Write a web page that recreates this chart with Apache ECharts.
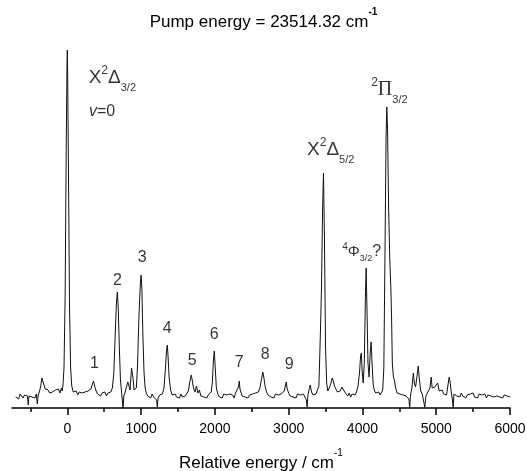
<!DOCTYPE html>
<html><head><meta charset="utf-8">
<script src="https://cdn.jsdelivr.net/npm/echarts@6/dist/echarts.min.js"></script>
<style>html,body{margin:0;padding:0;background:#fff}#c{width:527px;height:471px}</style>
</head><body><div id="c"></div>
<script>
// Spectrum (relative energy in cm^-1, intensity in arbitrary units)
var energy = [-700,-680,-660,-640,-620,-600,-580,-560,-540,-530,-520,-500,-480,-460,-440,-420,-407,-395,
-380,-360,-345,-335,-320,-300,-280,-260,-240,-220,-200,-180,-160,-140,-120,-100,-80,-70,-60,-45,-30,-15,-5,0,5,15,30,45,60,80,
100,120,140,160,180,200,220,240,260,280,300,320,340,355,370,390,410,430,450,470,490,510,530,550,570,590,610,630,650,665,678,690,705,720,735,748,755,765,780,800,820,835,850,870,880,890,905,920,935,950,970,990,1000,1010,1025,1040,1055,1070,1090,
1110,1130,1150,1170,1190,1210,1220,1230,1250,1270,1290,1310,1330,1345,1355,1365,1380,1400,1420,1440,1460,1480,1500,1520,1540,1560,1580,1600,1620,1640,1660,1680,1695,1710,1730,1750,1770,1790,1810,1830,1850,1870,1890,1910,1930,1950,1965,1980,1992,2005,2020,2040,2060,2080,
2100,2120,2140,2160,2180,2200,2220,2240,2260,2280,2300,2320,2330,2340,2355,2370,2390,2410,2430,2450,2470,2490,2510,2530,2550,2570,2590,2610,2630,2650,2665,2680,2700,2720,2740,2760,2780,2800,2820,2840,2860,2880,2900,2920,2940,2955,2967,2980,
3000,3020,3040,3060,3080,3100,3120,3140,3160,3180,3200,3220,3240,3250,3260,3275,3293,3310,3330,3350,3370,3390,3410,3430,3445,3460,3472,3485,3500,3515,3530,3550,3570,3590,3605,3620,3640,3660,3680,3700,3720,3740,3760,3780,3800,3820,3840,3860,3880,3900,3920,3940,3960,3975,3985,3995,
4010,4025,4040,4050,4060,4075,4090,4105,4118,4130,4145,4160,4180,4200,4220,4240,4260,4275,4290,4305,4320,4330,4340,4355,4370,4385,4395,4405,4420,4435,4450,4470,4490,4510,4530,4550,4570,4590,4610,4630,4640,4650,4670,4690,4705,4720,4740,4756,4770,4790,4810,4830,4845,4860,4880,4900,4915,4932,4945,4960,4980,
5000,5020,5040,5060,5080,5100,5120,5140,5155,5176,5190,5205,5220,5230,5240,5260,5280,5300,5320,5340,5360,5380,5400,5420,5440,5460,5480,5500,5520,5540,5560,5580,5600,5620,5640,5660,5680,5700,5720,5740,5760,5780,5800,5820,5840,5860,5880,5900,5920,5940,5960,5980,6000];
var intensity = [11,13,9,14,12,10,13,11,12,3,12,14,11,13,10,14,4,13,
16,22,30,32,24,19,17,18,15,17,16,14,18,16,19,15,20,17,22,40,110,260,340,358,330,240,100,40,22,16,
14,17,13,16,14,15,13,16,14,17,15,19,24,27,22,17,14,16,12,15,13,16,12,15,13,16,20,35,75,105,116,100,60,28,16,14,0,12,15,14,26,22,18,40,42,30,18,16,20,40,90,125,133,120,70,35,20,15,12,
13,10,14,11,12,8,1,10,13,11,14,20,40,58,63,52,30,18,13,12,14,11,13,10,14,11,13,12,14,17,26,33,27,20,16,22,15,18,12,14,11,13,10,13,12,16,25,48,57,40,20,14,11,13,
10,14,12,13,11,14,12,13,10,15,14,21,27,19,17,12,14,11,13,10,13,11,14,12,15,13,16,20,28,36,30,22,16,13,14,11,13,10,14,12,13,11,14,13,17,22,26,19,
15,12,14,11,13,10,14,12,13,11,14,12,8,1,12,18,23,16,13,12,14,13,22,75,120,200,235,170,60,25,17,20,24,30,27,22,20,16,18,17,21,23,16,14,12,15,11,14,12,13,16,22,35,52,55,38,
25,45,110,140,105,45,31,55,66,45,24,18,15,14,16,13,15,18,40,150,270,301,280,200,150,120,90,45,31,27,20,15,17,14,16,13,15,12,14,9,0,12,20,35,24,21,32,42,30,17,14,12,1,12,15,14,20,31,20,18,21,
20,25,17,15,18,14,16,13,21,31,25,15,8,0,14,16,12,14,11,15,12,14,10,13,11,14,12,15,11,13,10,14,12,13,11,14,10,13,15,12,14,11,13,12,14,11,13,10,13,11,12,10,11];

var majorTicks = [0,1000,2000,3000,4000,5000,6000];
var minorTicks = [-500,500,1500,2500,3500,4500,5500];

// Peak annotations: anchor (energy, intensity) and rich text
var annoX = [610, 470, 366, 680, 1016, 1355, 1694, 1992, 2331, 2683, 3008, 3570, 3990, 4365];
var annoY = [330, 296, 44, 127, 150, 79, 47, 73, 45, 53, 43, 258, 156, 318];
var annoText = [
  '{m|X}{sup|2}{m|Δ}{sub|3/2}',
  '{it|v}{n|=0}',
  '{n|1}','{n|2}','{n|3}','{n|4}','{n|5}','{n|6}','{n|7}','{n|8}','{n|9}',
  '{m|X}{sup|2}{m|Δ}{sub|5/2}',
  '{sup2|4}{phi|Φ}{sub2|3/2}{q|?}',
  '{sup|2}{pi|Π}{sub|3/2}'
];

var chart = echarts.init(document.getElementById('c'), null, {renderer: 'canvas'});
var F = 'Liberation Sans, Arial, sans-serif';
var line = [];
for (var i = 0; i < energy.length; i++) line.push([energy[i], intensity[i]]);
var anno = [];
for (var j = 0; j < annoX.length; j++) anno.push({value: [annoX[j], annoY[j]], label: {formatter: annoText[j]}});

var rich = {
  m: {fontSize: 19, fontFamily: F, color: '#000', lineHeight: 30, verticalAlign: 'middle'},
  sup: {fontSize: 12, fontFamily: F, color: '#000', lineHeight: 30, verticalAlign: 'top', padding: [2,0,0,0]},
  sub: {fontSize: 11, fontFamily: F, color: '#000', lineHeight: 30, verticalAlign: 'bottom'},
  sup2: {fontSize: 10, fontFamily: F, color: '#000', lineHeight: 26, verticalAlign: 'top', padding: [3,0,0,0]},
  sub2: {fontSize: 9, fontFamily: F, color: '#000', lineHeight: 26, verticalAlign: 'bottom', padding: [0,0,2,0]},
  phi: {fontSize: 15, fontFamily: F, color: '#000', lineHeight: 26, verticalAlign: 'middle'},
  q: {fontSize: 16, fontFamily: F, color: '#000', lineHeight: 26, verticalAlign: 'middle'},
  pi: {fontSize: 20, fontFamily: 'Liberation Serif, Times New Roman, serif', color: '#000', lineHeight: 30, verticalAlign: 'middle'},
  it: {fontSize: 16, fontFamily: F, fontStyle: 'italic', color: '#000'},
  n: {fontSize: 16, fontFamily: F, color: '#000'}
};

chart.setOption({
  animation: false,
  backgroundColor: '#fff',
  title: {
    text: '{t|Pump energy = 23514.32 cm}{s|-1}',
    left: 'center', top: 2,
    textStyle: {rich: {
      t: {fontSize: 17, fontFamily: F, color: '#000', fontWeight: 'normal', lineHeight: 24, verticalAlign: 'bottom'},
      s: {fontSize: 10, fontFamily: F, color: '#000', lineHeight: 24, verticalAlign: 'top'}
    }}
  },
  grid: {left: 12, right: 17, top: 40, bottom: 63, containLabel: false, outerBoundsMode: 'none'},
  xAxis: [{
    type: 'value', min: -750, max: 6000,
    name: '{t|Relative energy / cm}{s|-1}',
    nameLocation: 'middle', nameGap: 40,
    nameTextStyle: {rich: {
      t: {fontSize: 17, fontFamily: F, color: '#000', lineHeight: 24, verticalAlign: 'bottom'},
      s: {fontSize: 10, fontFamily: F, color: '#000', lineHeight: 24, verticalAlign: 'top'}
    }},
    axisLine: {show: true, onZero: false, lineStyle: {color: '#000', width: 1.5}},
    axisTick: {show: true, customValues: majorTicks, length: 7, lineStyle: {color: '#000', width: 1.5}},
    axisLabel: {show: true, customValues: majorTicks, margin: 14, fontSize: 14, fontFamily: F, color: '#000',
      formatter: function (v) { return String(v); }},
    splitLine: {show: false}
  }, {
    type: 'value', min: -750, max: 6000, position: 'bottom',
    axisLine: {show: false},
    axisTick: {show: true, customValues: minorTicks, length: 4, lineStyle: {color: '#000', width: 1.5}},
    axisLabel: {show: false},
    splitLine: {show: false}
  }],
  yAxis: {type: 'value', min: 0, max: 368, show: false},
  series: [{
    type: 'line', xAxisIndex: 0, data: line, showSymbol: false, symbol: 'none',
    lineStyle: {color: '#111', width: 1}, silent: true
  }, {
    type: 'scatter', xAxisIndex: 0, data: anno, symbolSize: 0, silent: true,
    label: {show: true, position: 'inside', color: '#000', rich: rich}
  }]
});
</script></body></html>
